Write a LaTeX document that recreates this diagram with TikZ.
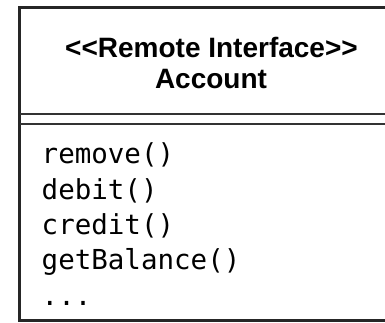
\documentclass[tikz,border=0pt]{standalone}
\usepackage{fontspec}
\setmainfont{Liberation Sans}
\newfontfamily\titlefont{Liberation Sans}
\newfontfamily\opfont{DejaVu Sans Mono}
\begin{document}
\begin{tikzpicture}[x=1pt, y=-1pt,
  frame/.style={line width=3pt, black!85},
  divider/.style={line width=1.8pt, black!80},
  titletext/.style={font=\titlefont\bfseries\fontsize{28}{31}\selectfont, inner sep=0pt, align=center},
  optext/.style={font=\opfont\fontsize{27.5}{35}\selectfont, inner sep=0pt, anchor=base west}
]
  % visible window; the class box runs past its right edge
  \clip (0,0) rectangle (385,323);
  \fill[white] (0,0) rectangle (385,323);

  % class frame, open to the right
  \coordinate (tr) at (410,7.8);
  \coordinate (tl) at (19.7,7.8);
  \coordinate (bl) at (19.7,320.5);
  \coordinate (br) at (410,320.5);
  \draw[frame] (tr) -- (tl) -- (bl) -- (br);

  % double divider below the name compartment
  \coordinate (d1l) at (19.7,113.7);
  \coordinate (d1r) at (410,113.7);
  \coordinate (d2l) at (19.7,124);
  \coordinate (d2r) at (410,124);
  \draw[divider] (d1l) -- (d1r);
  \draw[divider] (d2l) -- (d2r);

  % name compartment
  \node[titletext, anchor=base] (stereo) at (211.5,57.3) {<<Remote Interface>>};
  \node[titletext, anchor=base] (name) at (211,88.3) {Account};

  % operations
  \node[optext] (op1) at (41.5,163.5) {remove()};
  \node[optext] (op2) at (41.5,199) {debit()};
  \node[optext] (op3) at (41.5,234.5) {credit()};
  \node[optext] (op4) at (41.5,269.5) {getBalance()};
  \node[optext] (op5) at (41.5,305) {...};
\end{tikzpicture}
\end{document}
